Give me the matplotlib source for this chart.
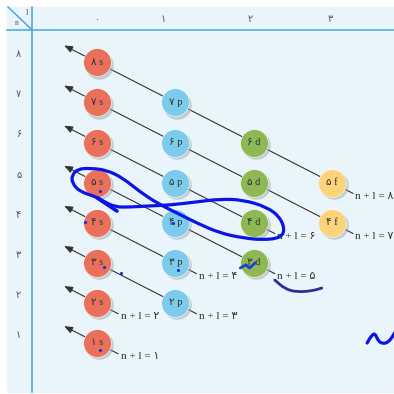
import numpy as np
import matplotlib.pyplot as plt
from matplotlib.patches import Rectangle, PathPatch
from matplotlib.path import Path

plt.rcParams['font.family'] = ['Liberation Serif', 'DejaVu Sans']

# ---- data ----
fa = '۰۱۲۳۴۵۶۷۸۹'
rows_n = [8, 7, 6, 5, 4, 3, 2, 1]
cols_l = [0, 1, 2, 3]
sub_letters = ['s', 'p', 'd', 'f']
sub_colors = ['#e9705b', '#7ccbeb', '#8db853', '#fbd379']
# orbitals (n, l) that appear in the diagram
orb_n = [8, 7, 6, 5, 4, 3, 2, 1, 7, 6, 5, 4, 3, 2, 6, 5, 4, 3, 5, 4]
orb_l = [0, 0, 0, 0, 0, 0, 0, 0, 1, 1, 1, 1, 1, 1, 2, 2, 2, 2, 3, 3]
groups = [1, 2, 3, 4, 5, 6, 7, 8]   # n + l

# hand-drawn annotations (in l, n units)
loop_l = [0.0, -0.217, -0.319, -0.319, -0.243, -0.089, 0.128, 0.332, 0.549, 0.766,
          1.022, 1.277, 1.571, 1.865, 2.12, 2.337, 2.40, 2.337, 2.17, 1.865,
          1.571, 1.277, 0.932, 0.677, 0.421, 0.23, 0.077]
loop_n = [4.64, 4.77, 4.99, 5.19, 5.34, 5.36, 5.31, 5.11, 4.77, 4.49,
          4.24, 3.99, 3.74, 3.62, 3.57, 3.62, 3.81, 4.14, 4.39, 4.57,
          4.59, 4.52, 4.44, 4.42, 4.39, 4.39, 4.54]
tail_l = [0.0, 0.255]
tail_n = [4.62, 4.29]
under_l = [2.27, 2.40, 2.55, 2.75, 2.87]
under_n = [2.57, 2.35, 2.27, 2.30, 2.37]
mark_l = [1.83, 1.90, 1.95, 2.02]
mark_n = [2.87, 2.95, 2.87, 3.00]
squig_l = [3.45, 3.50, 3.55, 3.59, 3.65, 3.72, 3.77, 3.80]
squig_n = [1.00, 1.17, 1.25, 1.05, 0.98, 1.02, 1.15, 1.25]
dot_l = [0.04, -0.15, 0.97, 0.09, 0.31, 1.03, 0.04]
dot_n = [4.79, 4.02, 3.99, 2.90, 2.75, 2.82, 0.83]


def fa_num(k):
    return ''.join(fa[int(c)] for c in str(k))


def smooth_path(xs, ys, closed=False):
    # quadratic bezier through midpoints, drawn by matplotlib's Path
    pts = list(zip(xs, ys))
    if closed:
        pts = pts + pts[:2]
    mids = [((a[0] + b[0]) / 2, (a[1] + b[1]) / 2) for a, b in zip(pts[:-1], pts[1:])]
    if closed:
        verts = [mids[0]]
    else:
        verts = [pts[0], mids[0]]
    codes = [Path.MOVETO] + ([] if closed else [Path.LINETO])
    for i in range(1, len(mids)):
        verts += [pts[i], mids[i]]
        codes += [Path.CURVE3, Path.CURVE3]
    if not closed:
        verts.append(pts[-1])
        codes.append(Path.LINETO)
    return Path(verts, codes)


fig = plt.figure(figsize=(3.94, 3.94), dpi=100)
ax = fig.add_axes([0, 0, 1, 1])
ax.set_xlim(-1.239, 3.793)
ax.set_ylim(-0.272, 9.554)
ax.axis('off')

# background and table lines
ax.add_patch(Rectangle((-1.149, -0.22), 5.0, 9.6, color='#eaf4fb', zorder=0))
ax.plot([-0.83, -0.83], [-0.22, 9.38], color='#45a8dc', lw=1.1, zorder=1)
ax.plot([-1.149, 3.8], [8.81, 8.81], color='#45a8dc', lw=1.1, zorder=1)
ax.plot([-1.137, -0.83], [9.38, 8.81], color='#45a8dc', lw=1.1, zorder=1)
ax.text(-0.894, 9.24, 'l', fontsize=6, color='#555', ha='center', va='center')
ax.text(-1.03, 8.98, 'n', fontsize=5.5, color='#555', ha='center', va='center')

hdr_shift = [0, -0.15, -0.04, -0.02]
for l in cols_l:
    ax.text(l + hdr_shift[l], 9.08, fa_num(l), fontsize=7, color='#555',
            ha='center', va='center', family=['DejaVu Sans'])
for n in rows_n:
    ax.text(-1.0, n + 0.2, fa_num(n), fontsize=7, color='#555',
            ha='center', va='center', family=['DejaVu Sans'])

# diagonal arrows, one per n + l group
for g in groups:
    ls = [l for n, l in zip(orb_n, orb_l) if n + l == g]
    lmin, lmax = min(ls), max(ls)
    x0, y0 = lmax + 0.27, (g - lmax) - 0.27
    x1, y1 = lmin - 0.42, (g - lmin) + 0.42
    ax.annotate('', xy=(x1, y1), xytext=(x0, y0),
                arrowprops=dict(arrowstyle='-|>,head_length=0.5,head_width=0.2',
                                color='#333333', lw=0.8, shrinkA=0, shrinkB=0),
                zorder=2)
    ax.text(lmax + 0.30, (g - lmax) - 0.34, 'n + l = ' + fa_num(g), fontsize=8,
            color='#333', ha='left', va='center', zorder=3)

# orbital circles
for n, l in zip(orb_n, orb_l):
    ax.scatter([l + 0.025], [n - 0.06], s=420, color='#9aa6ad', alpha=0.5,
               lw=0, zorder=3)
    ax.scatter([l], [n], s=400, color=sub_colors[l], edgecolors='#ffffff',
               linewidths=0.4, zorder=4)
    ax.text(l, n, fa_num(n) + ' ' + sub_letters[l], fontsize=7.5, color='#333333',
            ha='center', va='center', zorder=5)

# hand-drawn marks
ax.add_patch(PathPatch(smooth_path(loop_l, loop_n, closed=True), facecolor='none',
                       edgecolor='#0a14e6', lw=2.3, zorder=6))
ax.plot(tail_l, tail_n, color='#0a14e6', lw=2.6, solid_capstyle='round', zorder=6)
ax.add_patch(PathPatch(smooth_path(under_l, under_n), facecolor='none',
                       edgecolor='#2a2f98', lw=2.0, capstyle='round', zorder=6))
ax.plot(mark_l, mark_n, color='#1f3fd8', lw=2.0, solid_capstyle='round', zorder=6)
ax.add_patch(PathPatch(smooth_path(squig_l, squig_n), facecolor='none',
                       edgecolor='#0a14e6', lw=2.3, capstyle='round', zorder=6))
ax.scatter(dot_l, dot_n, s=5, color='#1a2ee0', lw=0, zorder=6)

fig.savefig('out.png', dpi=100)
